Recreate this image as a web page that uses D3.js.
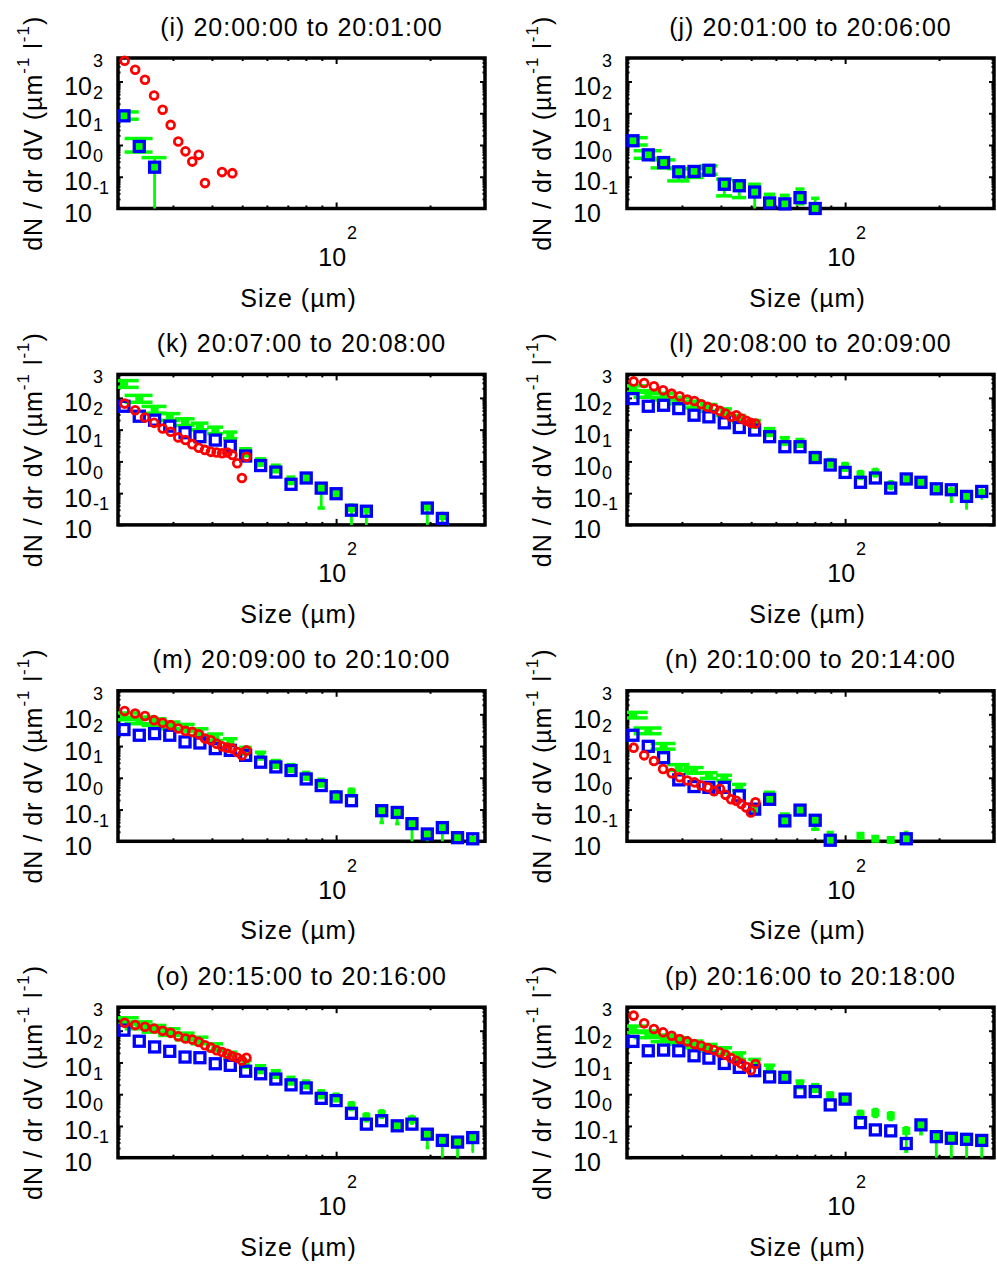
<!DOCTYPE html>
<html>
<head>
<meta charset="utf-8">
<script src="https://cdn.jsdelivr.net/npm/d3@7"></script>
<style>
  body { margin: 0; background: #fff; }
  svg { display: block; }
  text { font-family: "Liberation Sans", Arial, Helvetica, sans-serif; fill: #000; }
</style>
</head>
<body>
<svg id="chart" width="997" height="1269"></svg>
<script>
// size bins (um) for the blue / green series, and for the red series
const sizes = [20.9, 23.4, 26.2, 29.3, 32.8, 36.6, 41.0, 45.8, 51.3, 57.3, 64.1, 71.7, 80.2, 89.6, 100, 112, 125, 140, 157, 175, 196, 219, 245, 274];
const redSizes = [21.0, 22.7, 24.4, 26.1, 27.8, 29.5, 31.2, 32.9, 34.6, 36.3, 38.0, 39.7, 41.4, 43.1, 44.8, 46.5, 48.2, 49.9, 51.6];

const titles = ["(i) 20:00:00 to 20:01:00", "(j) 20:01:00 to 20:06:00", "(k) 20:07:00 to 20:08:00", "(l) 20:08:00 to 20:09:00",
                "(m) 20:09:00 to 20:10:00", "(n) 20:10:00 to 20:14:00", "(o) 20:15:00 to 20:16:00", "(p) 20:16:00 to 20:18:00"];

// axis ticks
const xMajor = [100];
const xMinor = [30, 40, 50, 60, 70, 80, 90, 200];
const yMajor = [0.1, 1, 10, 100, 1000];
const yExp = ["-1", "0", "1", "2", "3"];
const yMinor = [0.2, 0.3, 0.4, 0.5, 0.6, 0.7, 0.8, 0.9, 2, 3, 4, 5, 6, 7, 8, 9, 20, 30, 40, 50, 60, 70, 80, 90,
                200, 300, 400, 500, 600, 700, 800, 900, 2000, 3000, 4000, 5000];

// (i)
const blueI    = [83, 9.0, 2.0];
const greenI   = [83, 9.0, 2.0];
const greenHiI = [110, 16, 4.0];
const greenLoI = [65, 6.0, 0];
const redI     = [4500, 2340, 1135, 364, 129, 43, 12.9, 6.3, 3.0, 4.9, 0.63, null, null, 1.4, null, 1.3, null, null, null];

// (j)
const blueJ    = [13.6, 4.9, 2.8, 1.43, 1.47, 1.6, 0.58, 0.52, 0.33, 0.15, 0.14, 0.22, 0.095];
const greenJ   = [13.6, 4.9, 2.8, 1.43, 1.47, 1.6, 0.58, 0.52, 0.33, 0.15, 0.14, 0.22, 0.095];
const greenHiJ = [17, 6.6, 3.4, 1.8, 1.8, 2.2, 0.84, 0.75, 0.58, 0.28, 0.26, 0.41, 0.21];
const greenLoJ = [10, 3.8, 1.9, 0.74, 0.95, 1.2, 0.25, 0.22, 0, 0.11, 0.11, 0.14, 0];
const redJ     = [];

// (k)
const blueK    = [546, 265, 199, 129, 80, 60, 47, 30, 14.8, 7.4, 4.6, 1.9, 3.0, 1.44, 0.96, 0.29, 0.27, null, null, null, 0.34, 0.16];
const greenK   = [2800, 950, 430, 253, 176, 129, 97, 67, 20, 9.9, 6.1, 2.6, 3.3, 1.44, 1.0, 0.34, 0.30, null, null, null, 0.38, 0.19];
const greenHiK = [3500, 1200, 540, 320, 220, 160, 120, 84, 25, 12, 7.6, 3.2, 4.1, 1.8, 1.2, 0.42, 0.37, null, null, null, 0.47, 0.23];
const greenLoK = [2150, 730, 330, 195, 135, 99, 75, 52, 15, 7.6, 4.7, 2.0, 2.5, 0.34, 0.77, 0, 0, null, null, null, 0, 0];
const redK     = [661, 409, 241, 164, 109, 86, 57, 47, 35, 27, 23, 20, 19, 18, 19, 16, 8.7, 3.0, 14];

// (l)
const blueL    = [950, 546, 586, 461, 285, 253, 164, 117, 97, 60, 29, 29, 13.2, 7.7, 4.5, 2.2, 3.0, 1.44, 2.8, 2.2, 1.37, 1.28, 0.79, 1.13];
const greenL   = [1950, 1360, 1120, 840, 630, 495, 363, 224, 156, 86, 45, 39, 15, 9.2, 6.9, 3.8, 4.5, 1.8, 2.6, 2.1, 1.28, 1.13, 0.79, 1.0];
const greenHiL = [2400, 1700, 1400, 1050, 790, 620, 450, 280, 195, 108, 56, 49, 19, 11.5, 8.6, 4.8, 5.6, 2.3, 3.3, 2.6, 1.6, 1.4, 1.0, 1.25];
const greenLoL = [1500, 1050, 860, 650, 485, 380, 280, 172, 120, 66, 35, 30, 11.5, 7.1, 5.3, 2.9, 3.5, 1.4, 2.0, 1.6, 0.98, 0.55, 0.34, 0.7];
const redL     = [3310, 2940, 2310, 1730, 1360, 1120, 883, 802, 631, 520, 461, 390, 321, 253, 285, 224, 190, 164, 156];

// (m)
const blueM    = [331, 219, 247, 219, 135, 125, 83, 73, 51, 31, 22, 17, 9.2, 5.7, 2.5, 1.9, null, 0.92, 0.81, 0.36, 0.17, 0.27, 0.13, 0.12];
const greenM   = [877, 655, 580, 455, 384, 279, 194, 135, 73, 51, 28, 21, 11.8, 7.2, 2.9, 3.5, null, 0.92, 0.81, 0.36, 0.17, 0.27, 0.13, 0.11];
const greenHiM = [1100, 820, 725, 570, 480, 350, 240, 170, 91, 64, 35, 26, 14.8, 9.0, 3.6, 4.4, null, 1.15, 1.0, 0.45, 0.21, 0.34, 0.16, 0.14];
const greenLoM = [675, 505, 445, 350, 295, 215, 150, 104, 56, 39, 21.5, 16, 9.1, 5.5, 2.2, 2.7, null, 0.39, 0.36, 0, 0, 0, 0.1, 0.1];
const redM     = [1260, 1065, 877, 655, 539, 455, 356, 300, 279, 235, 172, 152, 119, 98, 89, 83, 65, 51, 73];

// (n)
const blueN    = [219, 98, 43, 8.6, 5.3, 5.0, 5.0, 2.7, 1.03, 2.1, 0.44, 0.96, 0.46, 0.108, null, null, null, null, 0.12];
const greenN   = [944, 300, 98, 21, 17, 11.8, 10, 5.0, 1.03, 2.1, 0.44, 0.96, 0.46, 0.108, null, 0.15, 0.12, 0.11, 0.12];
const greenHiN = [1150, 370, 120, 26, 21, 14.5, 12, 6.2, 1.3, 3.5, 0.72, 1.2, 0.56, 0.19, null, 0.17, 0.14, 0.13, 0.19];
const greenLoN = [770, 245, 80, 17, 14, 9.6, 8.2, 4.0, 0.8, 1.7, 0.36, 0.7, 0.24, 0.08, null, 0.13, 0.10, 0.09, 0.09];
const redN     = [89, 51, 34, 19, 14, 10.4, 8.2, 7.2, 5.7, 5.0, 3.8, 4.5, 2.9, 2.1, 1.9, 1.5, 1.17, 0.81, 1.7];

// (o)
const blueO    = [1040, 466, 308, 224, 148, 141, 91, 81, 53, 44, 30, 19.7, 15.8, 7.4, 6.3, 2.5, 1.14, 1.46, 1.01, 1.14, 0.55, 0.35, 0.31, 0.43];
const greenO   = [2050, 1500, 1175, 920, 671, 500, 308, 168, 91, 63, 44, 27, 21, 10.2, 8.0, 4.3, 1.9, 2.4, 1.01, 1.6, 0.55, 0.35, 0.31, 0.43];
const greenHiO = [2550, 1900, 1470, 1150, 840, 625, 385, 210, 114, 79, 55, 34, 26, 12.8, 10, 5.4, 2.4, 3.0, 1.26, 2.0, 0.69, 0.44, 0.39, 0.54];
const greenLoO = [1580, 1150, 900, 710, 515, 385, 237, 130, 70, 48, 34, 21, 16, 7.8, 6.2, 3.3, 1.46, 1.85, 0.78, 1.23, 0.21, 0, 0, 0.16];
const redO     = [1775, 1500, 1330, 1175, 990, 855, 671, 566, 526, 444, 348, 293, 242, 214, 189, 156, 141, 116, 141];

// (p)
const blueP    = [460, 233, 245, 233, 162, 137, 93, 70, 55, 35, 34, 11.9, 12.1, 4.6, 7.0, 1.27, 0.75, 0.70, 0.28, 1.08, 0.46, 0.41, 0.38, 0.35];
const greenP   = [1130, 785, 587, 483, 379, 298, 233, 162, 100, 66, 38, 20.7, 16, 8.9, 7.0, 2.3, 2.6, 2.1, 0.70, 1.08, 0.46, 0.41, 0.38, 0.35];
const greenHiP = [1400, 980, 735, 600, 475, 370, 290, 200, 125, 82, 48, 26, 20, 11, 8.8, 2.9, 3.3, 2.6, 0.88, 1.35, 0.58, 0.51, 0.48, 0.44];
const greenLoP = [870, 605, 450, 370, 290, 230, 180, 125, 77, 51, 29, 16, 12.3, 6.8, 5.4, 1.77, 2.0, 1.6, 0.16, 0.57, 0, 0, 0, 0];
const redP     = [2980, 1705, 1130, 886, 695, 546, 460, 379, 336, 284, 245, 207, 175, 137, 113, 93, 73, 57, 89];

const halfBin = 2.4; // horizontal half-width of the green error caps, um

const panels = [
  {blue: blueI, green: greenI, hi: greenHiI, lo: greenLoI, red: redI},
  {blue: blueJ, green: greenJ, hi: greenHiJ, lo: greenLoJ, red: redJ},
  {blue: blueK, green: greenK, hi: greenHiK, lo: greenLoK, red: redK},
  {blue: blueL, green: greenL, hi: greenHiL, lo: greenLoL, red: redL},
  {blue: blueM, green: greenM, hi: greenHiM, lo: greenLoM, red: redM},
  {blue: blueN, green: greenN, hi: greenHiN, lo: greenLoN, red: redN},
  {blue: blueO, green: greenO, hi: greenHiO, lo: greenLoO, red: redO},
  {blue: blueP, green: greenP, hi: greenHiP, lo: greenLoP, red: redP}
];

// layout
const colX = [118, 627];
const rowY = [58, 374.4, 690.8, 1007.2];
const W = 367, H = 150.5;
const FS = 25;

const svg = d3.select("#chart");

panels.forEach(function(p, i) {
  const x0 = colX[i % 2], y0 = rowY[Math.floor(i / 2)];
  const g = svg.append("g").attr("transform", "translate(" + x0 + "," + y0 + ")");

  const x = d3.scaleLog().domain([20, 300]).range([0, W]).clamp(true);
  const y = d3.scaleLog().domain([0.1, 5500]).range([H, 0]).clamp(true);

  // ticks (inward, on all four sides)
  const tickStyle = sel => { sel.select(".domain").remove(); sel.selectAll("line").attr("stroke", "#000").attr("stroke-width", 2); sel.selectAll("text").remove(); };
  g.append("g").call(d3.axisBottom(x).tickValues(xMinor).tickSize(-3).tickFormat("")).attr("transform", "translate(0," + H + ")").call(tickStyle);
  g.append("g").call(d3.axisBottom(x).tickValues(xMajor).tickSize(-6).tickFormat("")).attr("transform", "translate(0," + H + ")").call(tickStyle);
  g.append("g").call(d3.axisTop(x).tickValues(xMinor).tickSize(-3).tickFormat("")).call(tickStyle);
  g.append("g").call(d3.axisTop(x).tickValues(xMajor).tickSize(-6).tickFormat("")).call(tickStyle);
  g.append("g").call(d3.axisLeft(y).tickValues(yMinor).tickSize(-2.5).tickFormat("")).call(tickStyle);
  g.append("g").call(d3.axisLeft(y).tickValues(yMajor).tickSize(-5).tickFormat("")).call(tickStyle);
  g.append("g").call(d3.axisRight(y).tickValues(yMinor).tickSize(-2.5).tickFormat("")).attr("transform", "translate(" + W + ",0)").call(tickStyle);
  g.append("g").call(d3.axisRight(y).tickValues(yMajor).tickSize(-5).tickFormat("")).attr("transform", "translate(" + W + ",0)").call(tickStyle);

  // frame
  g.append("rect").attr("width", W).attr("height", H)
    .attr("fill", "none").attr("stroke", "#000").attr("stroke-width", 3.5);

  // y tick labels: "10" with a raised exponent (as in the original rendering)
  yMajor.forEach(function(v, j) {
    const ty = y(v);
    g.append("text").attr("x", -26).attr("y", ty + 13.5).attr("text-anchor", "end")
      .attr("font-size", FS).text("10");
    g.append("text").attr("x", -25).attr("y", ty - 14.5)
      .attr("font-size", 18).text(yExp[j]);
  });

  // x tick label
  xMajor.forEach(function(v) {
    g.append("text").attr("x", x(v) + 10).attr("y", H + 57.5).attr("text-anchor", "end")
      .attr("font-size", FS).text("10");
    g.append("text").attr("x", x(v) + 11).attr("y", H + 30.5)
      .attr("font-size", 18).text("2");
  });

  // titles and axis labels
  g.append("text").attr("x", W / 2).attr("y", -22.5).attr("text-anchor", "middle")
    .attr("font-size", FS).attr("letter-spacing", 1).text(titles[i]);
  g.append("text").attr("x", W / 2 - 3).attr("y", H + 98).attr("text-anchor", "middle")
    .attr("font-size", FS).attr("letter-spacing", 1).text("Size (µm)");

  const yl = g.append("text")
    .attr("transform", "translate(" + (-76) + "," + (H / 2) + ") rotate(-90)")
    .attr("text-anchor", "middle").attr("font-size", FS).attr("letter-spacing", 1);
  yl.append("tspan").text("dN / dr dV (µm");
  yl.append("tspan").attr("dy", -13).attr("font-size", 17).text("-1");
  yl.append("tspan").attr("dy", 13).text(" l");
  yl.append("tspan").attr("dy", -13).attr("font-size", 17).text("-1");
  yl.append("tspan").attr("dy", 13).text(")");

  // green: error bars + filled marker
  const gi = d3.range(sizes.length).filter(k => p.green[k] != null);
  const gg = g.append("g").attr("stroke", "#00ff00").attr("fill", "#00ff00");
  gg.selectAll("line.v").data(gi).join("line")
    .attr("x1", k => x(sizes[k])).attr("x2", k => x(sizes[k]))
    .attr("y1", k => y(Math.max(p.lo[k], 0.1))).attr("y2", k => y(p.hi[k]))
    .attr("stroke-width", 2.8);
  gg.selectAll("line.hi").data(gi).join("line")
    .attr("x1", k => x(sizes[k] - halfBin)).attr("x2", k => x(sizes[k] + halfBin))
    .attr("y1", k => y(p.hi[k])).attr("y2", k => y(p.hi[k]))
    .attr("stroke-width", 3.5);
  gg.selectAll("line.lo").data(gi.filter(k => p.lo[k] > 0.1)).join("line")
    .attr("x1", k => x(sizes[k] - halfBin)).attr("x2", k => x(sizes[k] + halfBin))
    .attr("y1", k => y(p.lo[k])).attr("y2", k => y(p.lo[k]))
    .attr("stroke-width", 3.5);
  gg.selectAll("rect").data(gi).join("rect")
    .attr("x", k => x(sizes[k]) - 4).attr("y", k => y(p.green[k]) - 4)
    .attr("width", 8).attr("height", 8).attr("stroke", "none");

  // blue open squares
  const bi = d3.range(sizes.length).filter(k => p.blue[k] != null);
  g.append("g").selectAll("rect").data(bi).join("rect")
    .attr("x", k => x(sizes[k]) - 5).attr("y", k => y(p.blue[k]) - 5)
    .attr("width", 10).attr("height", 10)
    .attr("fill", "none").attr("stroke", "#0000ff").attr("stroke-width", 3.3);

  // red open circles
  const ri = d3.range(redSizes.length).filter(k => p.red[k] != null);
  g.append("g").selectAll("circle").data(ri).join("circle")
    .attr("cx", k => x(redSizes[k])).attr("cy", k => y(p.red[k]))
    .attr("r", 3.9)
    .attr("fill", "none").attr("stroke", "#ff0000").attr("stroke-width", 2.8);
});
</script>
</body>
</html>
